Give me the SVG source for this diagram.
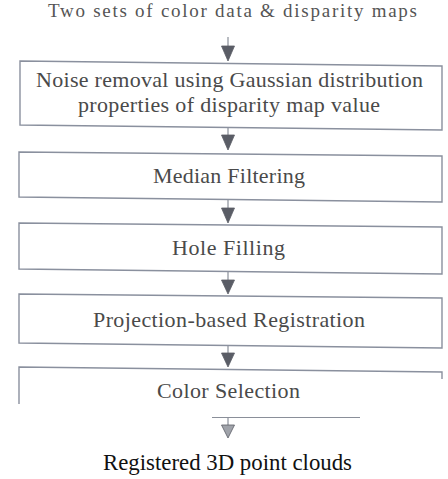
<svg xmlns="http://www.w3.org/2000/svg" width="448" height="479" viewBox="0 0 448 479">
  <defs>
    <style>
      .box { fill: none; stroke: #8a909e; stroke-width: 1.4; }
      .stem { stroke: #8a8f99; stroke-width: 1.2; fill: none; }
      .head { fill: #5a5d66; stroke: #5a5d66; stroke-width: 0.8; stroke-linejoin: round; }
      text { font-family: 'Liberation Serif', 'DejaVu Serif', serif; text-anchor: middle; }
      .label { font-size: 22px; fill: #4a4a4a; }
    </style>
  </defs>
  <rect x="0" y="0" width="448" height="479" fill="#ffffff"/>

  <!-- input -->
  <g id="input">
    <text x="232.5" y="17" font-size="19" fill="#555555" textLength="369" lengthAdjust="spacing">Two sets of color data &amp; disparity maps</text>
  </g>

  <!-- processing steps -->
  <g id="noise-removal">
    <path class="box" d="M20,61 L442,66 L442,130 L20,125 Z"/>
    <text class="label" x="229.5" y="87" textLength="387" lengthAdjust="spacing">Noise removal using Gaussian distribution</text>
    <text class="label" x="229" y="112" textLength="302" lengthAdjust="spacing">properties of disparity map value</text>
  </g>

  <g id="median-filtering">
    <path class="box" d="M19,152 L442,156 L442,202 L19,197 Z"/>
    <text class="label" x="229" y="183" textLength="152" lengthAdjust="spacing">Median Filtering</text>
  </g>

  <g id="hole-filling">
    <path class="box" d="M19,223 L442,227 L442,274 L19,269 Z"/>
    <text class="label" x="228.5" y="255" textLength="113" lengthAdjust="spacing">Hole Filling</text>
  </g>

  <g id="registration">
    <path class="box" d="M19,294 L442,298 L442,348 L19,343 Z"/>
    <text class="label" x="229" y="327" textLength="272" lengthAdjust="spacing">Projection-based Registration</text>
  </g>

  <g id="color-selection">
    <path class="box" d="M19,404 L19,367 L442,372 L442,379"/>
    <text class="label" x="228.5" y="398" fill="#5e5e5e" textLength="143" lengthAdjust="spacing">Color Selection</text>
  </g>

  <!-- output -->
  <g id="output">
    <text x="227.5" y="470" font-size="23" fill="#111111" textLength="249" lengthAdjust="spacingAndGlyphs">Registered 3D point clouds</text>
  </g>

  <!-- connectors -->
  <g id="connectors">
    <line class="stem" x1="228" y1="37" x2="228" y2="47"/>
    <path class="head" d="M221.5,46 L234.5,46 L228,61 Z"/>

    <line class="stem" x1="228" y1="128" x2="228" y2="136"/>
    <path class="head" d="M221.5,135 L234.5,135 L228,150 Z"/>

    <line class="stem" x1="228" y1="200" x2="228" y2="209"/>
    <path class="head" d="M221.5,208 L234.5,208 L228,223 Z"/>

    <line class="stem" x1="228" y1="272" x2="228" y2="281"/>
    <path class="head" d="M221.5,280 L234.5,280 L228,294 Z"/>

    <line class="stem" x1="228" y1="346" x2="228" y2="354"/>
    <path class="head" d="M221.5,353 L234.5,353 L228,367 Z"/>

    <line class="stem" x1="212" y1="417.5" x2="360" y2="417.5"/>
    <line class="stem" x1="228" y1="417.5" x2="228" y2="426"/>
    <path d="M221.5,425 L234.5,425 L228,438 Z" fill="#a0a3aa" stroke="#5a5d66" stroke-width="0.8" stroke-linejoin="round"/>
  </g>
</svg>
